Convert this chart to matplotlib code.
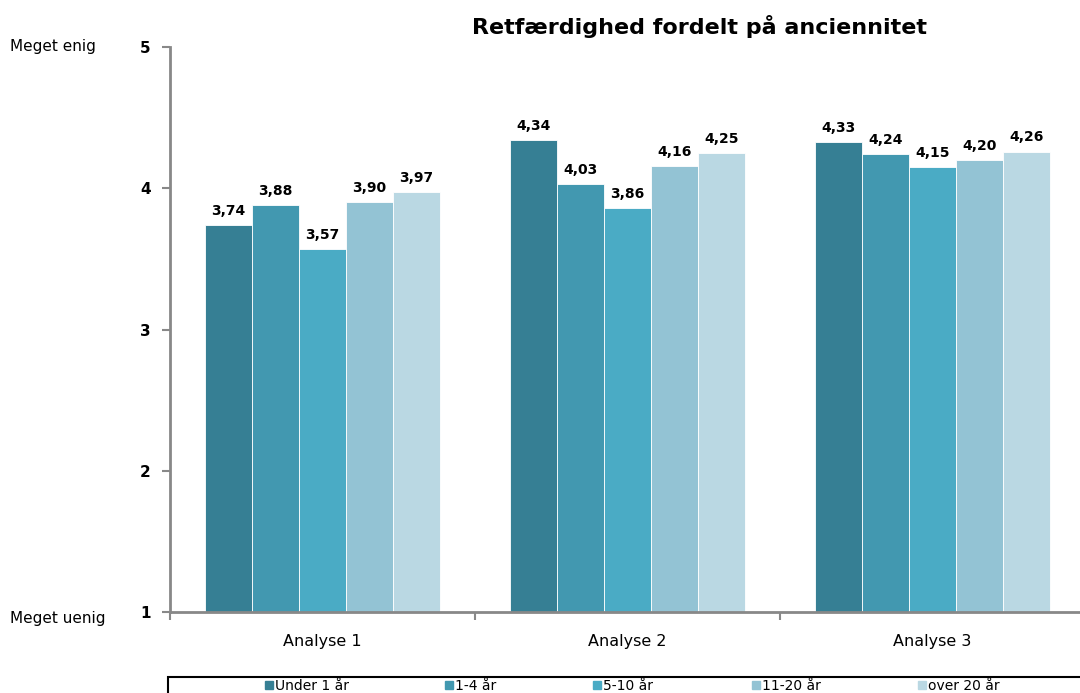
import matplotlib.pyplot as plt
import numpy as np

groups = ["Analyse 1", "Analyse 2", "Analyse 3"]
series = ["Under 1 år", "1-4 år", "5-10 år", "11-20 år", "over 20 år"]
values = [
    [3.74, 4.34, 4.33],
    [3.88, 4.03, 4.24],
    [3.57, 3.86, 4.15],
    [3.90, 4.16, 4.20],
    [3.97, 4.25, 4.26],
]
colors = ["#367f94", "#4298b0", "#4aabc5", "#93c3d4", "#bad8e3"]

fig = plt.figure(figsize=(10.8, 6.93), dpi=100)
W, H = 1080, 693
ax = fig.add_axes([170 / W, 1 - 612 / H, 915 / W, 565 / H])

x = np.arange(len(groups))
bw = 0.154
for i, (name, vals) in enumerate(zip(series, values)):
    pos = x + (i - 2) * bw
    ax.bar(pos, np.array(vals) - 1, bottom=1, width=bw, color=colors[i],
           edgecolor="white", linewidth=0.6, label=name)
    for p, v in zip(pos, vals):
        ax.text(p, v + 0.05, f"{v:.2f}".replace(".", ","), ha="center", va="bottom",
                fontsize=10, fontweight="bold")

ax.set_xlim(-0.5, 2.5)
ax.set_ylim(1, 5)
ax.set_yticks([1, 2, 3, 4, 5])
ax.set_yticklabels(["1", "2", "3", "4", "5"], fontsize=11, fontweight="bold")
ax.set_xticks([-0.5, 0.5, 1.5])
ax.set_xticklabels([])
ax.set_xticks(x, minor=True)
ax.set_xticklabels(groups, minor=True, fontsize=11.5)
ax.tick_params(axis="x", which="minor", length=0, pad=16)
ax.tick_params(axis="x", which="major", length=6, width=1.5, color="#888888")
ax.tick_params(axis="y", length=6, width=1.5, color="#888888", pad=8)

for s in ["top", "right"]:
    ax.spines[s].set_visible(False)
for s in ["left", "bottom"]:
    ax.spines[s].set_color("#888888")
    ax.spines[s].set_linewidth(2)

fig.text(700 / W, 1 - 27 / H, "Retfærdighed fordelt på anciennitet", ha="center",
         va="center", fontsize=16, fontweight="bold")
fig.text(10 / W, 1 - 47 / H, "Meget enig", ha="left", va="center", fontsize=11)
fig.text(10 / W, 1 - 618 / H, "Meget uenig", ha="left", va="center", fontsize=11)

# legend box, cut off at the bottom like the original
box = plt.Rectangle((168 / W, -0.02), 1.0, (693 - 677) / H + 0.02, transform=fig.transFigure,
                    fill=False, edgecolor="black", linewidth=1.5)
fig.add_artist(box)
leg_x = [265, 445, 593, 752, 918]
for lx, name, c in zip(leg_x, series, colors):
    fig.add_artist(plt.Rectangle((lx / W, 1 - 689 / H), 8 / W, 8 / H,
                                 transform=fig.transFigure, color=c))
    fig.text((lx + 10) / W, 1 - 686 / H, name, ha="left", va="center", fontsize=10)

fig.savefig("out.png", dpi=100)
